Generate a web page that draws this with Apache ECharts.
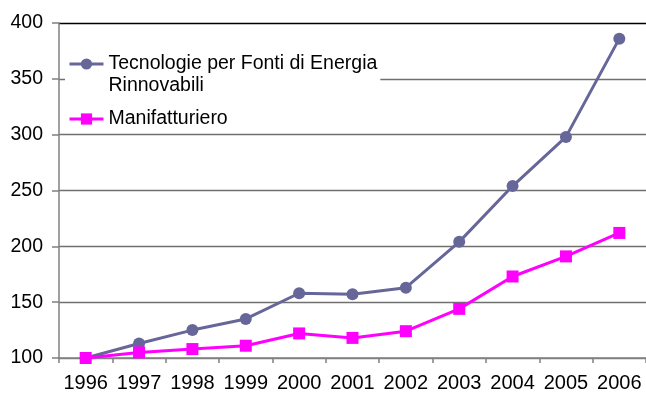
<!DOCTYPE html>
<html>
<head>
<meta charset="utf-8">
<script src="https://cdn.jsdelivr.net/npm/echarts@6/dist/echarts.min.js"></script>
<style>
  html, body { margin: 0; padding: 0; background: #fff; }
  #chart { width: 646px; height: 394px; }
</style>
</head>
<body>
<div id="chart"></div>
<script>
// Years on the category axis
const years = ['1996', '1997', '1998', '1999', '2000', '2001', '2002', '2003', '2004', '2005', '2006'];

// Index values (1996 = 100)
const rinnovabili = [100, 113, 125, 135, 158, 157, 163, 204, 254, 298, 386];
const manifatturiero = [100, 105, 108, 111, 122, 118, 124, 144, 173, 191, 212];

// Value axis ticks
const yMin = 100;
const yMax = 400;
const yStep = 50;

const seriesNames = ['Tecnologie per Fonti di Energia\nRinnovabili', 'Manifatturiero'];

const chart = echarts.init(document.getElementById('chart'));
const font = 'Liberation Sans, Arial, sans-serif';

chart.setOption({
  animation: false,
  backgroundColor: '#fff',
  textStyle: { fontFamily: font },
  grid: { left: 59, top: 23, width: 590, height: 335, containLabel: false },
  legend: {
    orient: 'vertical',
    left: 65,
    top: 29,
    itemWidth: 34,
    itemHeight: 14,
    itemGap: 11,
    padding: [2, 3, 2, 3],
    backgroundColor: '#fff',
    z: 10,
    data: seriesNames,
    lineStyle: { width: 3 },
    formatter: function (name) {
      // a leading blank line keeps the marker level with the first text line
      return name.indexOf('\n') >= 0 ? '\n' + name : name;
    },
    textStyle: { fontFamily: font, fontSize: 19.5, color: '#000', lineHeight: 22 }
  },
  xAxis: {
    type: 'category',
    data: years,
    boundaryGap: true,
    axisLine: { lineStyle: { color: '#808080', width: 1.5 } },
    axisTick: { show: true, length: 5, alignWithLabel: false, lineStyle: { color: '#808080', width: 1.5 } },
    axisLabel: { fontFamily: font, fontSize: 20, color: '#000', margin: 15, interval: 0 }
  },
  yAxis: {
    type: 'value',
    min: yMin,
    max: yMax,
    interval: yStep,
    axisLine: { show: true, lineStyle: { color: '#808080', width: 1.5 } },
    axisTick: { show: true, length: 7, lineStyle: { color: '#808080', width: 1.5 } },
    axisLabel: { fontFamily: font, fontSize: 19.5, color: '#000', margin: 16 },
    splitLine: {
      show: true,
      lineStyle: {
        color: ['#808080', '#707070', '#707070', '#707070', '#707070', '#707070', '#000'],
        width: 1.3
      }
    }
  },
  series: [
    {
      name: seriesNames[0],
      type: 'line',
      data: rinnovabili,
      symbol: 'circle',
      symbolSize: 12,
      lineStyle: { color: '#666699', width: 3 },
      itemStyle: { color: '#666699' },
      z: 3
    },
    {
      name: seriesNames[1],
      type: 'line',
      data: manifatturiero,
      symbol: 'rect',
      symbolSize: 12,
      lineStyle: { color: '#ff00ff', width: 3 },
      itemStyle: { color: '#ff00ff' },
      z: 4
    }
  ]
});
</script>
</body>
</html>
